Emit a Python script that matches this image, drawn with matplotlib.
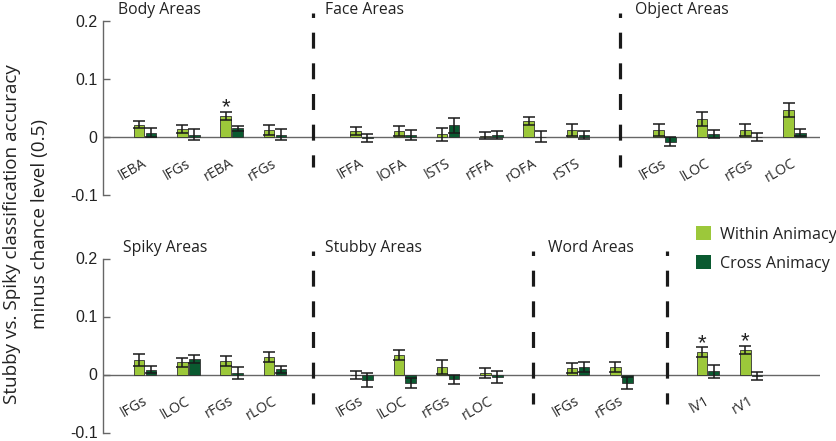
import matplotlib
matplotlib.use("Agg")
import matplotlib.pyplot as plt
from matplotlib.patches import Patch

# ---------------- data ----------------
top_regions = ['lEBA', 'lFGs', 'rEBA', 'rFGs', 'lFFA', 'lOFA', 'lSTS', 'rFFA', 'rOFA', 'rSTS',
               'lFGs', 'lLOC', 'rFGs', 'rLOC']
top_slots = [0, 1, 2, 3, 5, 6, 7, 8, 9, 10, 12, 13, 14, 15]
top_within = [0.021, 0.013, 0.036, 0.0115, 0.0098, 0.0098, 0.0047, 0.002, 0.027, 0.0115,
              0.012, 0.0305, 0.012, 0.0466]
top_within_err = [0.006, 0.007, 0.007, 0.0085, 0.0065, 0.0085, 0.011, 0.006, 0.0065, 0.010,
                  0.011, 0.012, 0.0105, 0.0115]
top_cross = [0.007, 0.004, 0.0145, 0.004, -0.0025, 0.003, 0.020, 0.004, 0.0006, 0.003,
             -0.008, 0.005, 0.0003, 0.0074]
top_cross_err = [0.008, 0.009, 0.004, 0.009, 0.007, 0.009, 0.013, 0.007, 0.009, 0.007,
                 0.007, 0.007, 0.007, 0.0064]
top_sig = ['rEBA']
top_groups = ['Body Areas', 'Face Areas', 'Object Areas']
top_group_x = [-0.62, 4.16, 11.32]
top_separators = [3.89, 10.97]

bot_regions = ['lFGs', 'lLOC', 'rFGs', 'rLOC', 'lFGs', 'lLOC', 'rFGs', 'rLOC', 'lFGs', 'rFGs',
               'lV1', 'rV1']
bot_slots = [0, 1, 2, 3, 5, 6, 7, 8, 10, 11, 13, 14]
bot_within = [0.0253, 0.0207, 0.023, 0.030, -0.001, 0.034, 0.0128, 0.0024, 0.011, 0.0128,
              0.0386, 0.0426]
bot_within_err = [0.0105, 0.008, 0.0086, 0.008, 0.0065, 0.009, 0.0125, 0.009, 0.0086, 0.0086,
                  0.0086, 0.0074]
bot_cross = [0.008, 0.027, 0.0024, 0.0093, -0.009, -0.0148, -0.0086, -0.0045, 0.0128, -0.0148,
             0.0058, -0.0028]
bot_cross_err = [0.0058, 0.007, 0.011, 0.006, 0.012, 0.008, 0.0075, 0.011, 0.0086, 0.01,
                 0.011, 0.0065]
bot_sig_slots = [13, 14]
bot_groups = ['Spiky Areas', 'Stubby Areas', 'Word Areas']
bot_group_x = [-0.51, 4.16, 9.31]
bot_separators = [3.89, 8.97, 12.05]

yticks = [-0.1, 0, 0.1, 0.2]
ytick_labels = ['-0.1', '0', '0.1', '0.2']
series_names = ['Within Animacy', 'Cross Animacy']
ylabel_lines = ['Stubby vs. Spiky classification accuracy', 'minus chance level (0.5)']

# ---------------- style ----------------
LIGHT = '#9cc83a'
DARK = '#0a5a30'
EDGE = '#333333'
AXC = '#666666'
TXT = '#222222'
TXTFONT = ['Open Sans', 'DejaVu Sans']
NUMFONT = ['Liberation Sans', 'DejaVu Sans']
W = 0.245
OFF = 0.137

fig = plt.figure(figsize=(8.37, 4.41), dpi=100)
ax_top = fig.add_axes([103 / 837, 1 - 195 / 441, (820 - 103) / 837, (195 - 20.7) / 441])
ax_bot = fig.add_axes([103 / 837, 1 - 432.5 / 441, (820 - 103) / 837, (432.5 - 258.5) / 441])


def draw_panel(ax, regions, slots, within, within_err, cross, cross_err, sig_slots,
               groups, group_x, separators):
    ax.set_xlim(-0.97, 15.59)
    ax.set_ylim(-0.1, 0.2)
    for s in ['top', 'right', 'bottom']:
        ax.spines[s].set_visible(False)
    ax.spines['left'].set_color(AXC)
    ax.spines['left'].set_linewidth(1.0)
    ax.set_xticks([])
    ax.set_yticks(yticks)
    ax.set_yticklabels(ytick_labels, fontfamily=NUMFONT, fontsize=11.5, color=TXT)
    ax.tick_params(axis='y', direction='in', length=5, width=1.0, color=AXC, pad=4)
    ax.axhline(0, color=AXC, lw=1.0, zorder=1)

    xw = [s - OFF for s in slots]
    xc = [s + OFF for s in slots]
    ax.bar(xw, within, width=W, color=LIGHT, edgecolor=EDGE, linewidth=0.6, zorder=2)
    ax.bar(xc, cross, width=W, color=DARK, edgecolor=EDGE, linewidth=0.6, zorder=2)
    ax.errorbar(xw, within, yerr=within_err, fmt='none', ecolor='#1a1a1a', elinewidth=1.1,
                capsize=4, capthick=1.1, zorder=3)
    ax.errorbar(xc, cross, yerr=cross_err, fmt='none', ecolor='#1a1a1a', elinewidth=1.1,
                capsize=4, capthick=1.1, zorder=3)

    for s, v, e in zip(slots, within, within_err):
        if s in sig_slots:
            ax.text(s - OFF, v + e - 0.0115, '*', ha='center', va='bottom', fontsize=16,
                    fontfamily=NUMFONT, color=TXT)

    for s, lab in zip(slots, regions):
        ax.text(s + 0.02, -0.044, lab, rotation=30, rotation_mode='anchor', ha='right',
                va='center', fontsize=10.3, fontfamily=TXTFONT, color='#2a2a2a')

    for g, gx in zip(groups, group_x):
        ax.text(gx, 0.218, g, ha='left', va='center', fontsize=11.3, fontfamily=TXTFONT,
                color=TXT, clip_on=False)

    for sx in separators:
        ax.plot([sx, sx], [0.213, -0.051], color='#1a1a1a', lw=2.3, clip_on=False,
                linestyle=(3.6, (5.0, 4.6)), solid_capstyle='butt', dash_capstyle='butt',
                zorder=4)


top_sig_slots = [s for s, r in zip(top_slots, top_regions) if r in top_sig]
draw_panel(ax_top, top_regions, top_slots, top_within, top_within_err, top_cross,
           top_cross_err, top_sig_slots, top_groups, top_group_x, top_separators)
draw_panel(ax_bot, bot_regions, bot_slots, bot_within, bot_within_err, bot_cross,
           bot_cross_err, bot_sig_slots, bot_groups, bot_group_x, bot_separators)

handles = [Patch(facecolor=LIGHT, edgecolor='none'), Patch(facecolor=DARK, edgecolor='none')]
fig.legend(handles, series_names, loc='upper left',
           bbox_to_anchor=(696 / 837, 1 - 226.5 / 441), frameon=False, borderpad=0,
           borderaxespad=0, handlelength=0.95, handleheight=0.95, handletextpad=0.55,
           labelspacing=0.75, prop={'family': TXTFONT, 'size': 11.6}, labelcolor=TXT)

fig.text(12 / 837, 1 - 234 / 441, ylabel_lines[0], rotation=90, ha='center', va='center',
         fontsize=13.6, fontfamily=TXTFONT, color=TXT)
fig.text(40 / 837, 1 - 224 / 441, ylabel_lines[1], rotation=90, ha='center', va='center',
         fontsize=13.6, fontfamily=TXTFONT, color=TXT)

fig.savefig('out.png', dpi=100)
